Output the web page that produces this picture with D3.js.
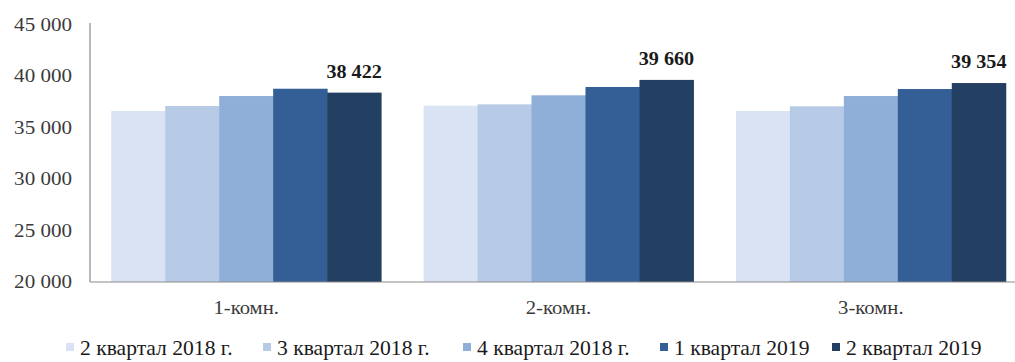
<!DOCTYPE html>
<html><head><meta charset="utf-8">
<script src="https://cdn.jsdelivr.net/npm/d3@7"></script>
<style>body{margin:0;background:#fff}svg{display:block}text{font-family:"Liberation Serif","Times New Roman",serif}</style>
</head><body>
<svg id="c" width="1015" height="362"></svg>
<script>
const categories = ["1-комн.", "2-комн.", "3-комн."];
const seriesNames = ["2 квартал 2018 г.", "3 квартал 2018 г.", "4 квартал 2018 г.", "1 квартал 2019", "2 квартал 2019"];
const q2_2018 = [36630, 37150, 36630];
const q3_2018 = [37120, 37280, 37090];
const q4_2018 = [38090, 38160, 38090];
const q1_2019 = [38800, 38970, 38770];
const q2_2019 = [38422, 39660, 39354];
const labelValues = [null, null, null, null, q2_2019];
const yTicks = [20000, 25000, 30000, 35000, 40000, 45000];
const colors = ["#dae3f3", "#b7cbe6", "#8faed8", "#345e96", "#233f62"];

const series = [q2_2018, q3_2018, q4_2018, q1_2019, q2_2019];
const svg = d3.select("#c");
const fmt = v => d3.format(",")(v).replace(/,/g, " ");

const y = d3.scaleLinear().domain([20000, 45000]).range([282, 25]);
const x0 = d3.scaleBand().domain(categories).range([90, 1027]).paddingInner(0.136).paddingOuter(0.068);
const x1 = d3.scaleBand().domain(d3.range(series.length)).range([0, x0.bandwidth()]);

function stretched(g, tx, ty, txt, anchor, sx) {
  return g.append("text").attr("transform", `translate(${tx},${ty}) scale(${sx},1)`)
    .attr("text-anchor", anchor).text(txt);
}

// bars
categories.forEach((c, ci) => {
  series.forEach((s, si) => {
    svg.append("rect")
      .attr("x", x0(c) + x1(si)).attr("width", x1.bandwidth() + 0.5)
      .attr("y", y(s[ci])).attr("height", y(20000) - y(s[ci]))
      .attr("fill", colors[si]);
  });
});

// axes
const ax = svg.append("g").attr("stroke", "#8a8a8a").attr("stroke-width", 1.2);
ax.append("line").attr("x1", 90).attr("x2", 90).attr("y1", y(45000) - 2).attr("y2", y(20000));
ax.append("line").attr("x1", 90).attr("x2", 1027).attr("y1", y(20000)).attr("y2", y(20000));

const tg = svg.append("g").attr("font-size", 18).attr("fill", "#3a3a3a");
yTicks.forEach(t => stretched(tg, 72, y(t) + 6, fmt(t), "end", 1.17));
categories.forEach(c => stretched(tg, x0(c) + x0.bandwidth() / 2, 314, c, "middle", 1.15));

// data labels
const lg = svg.append("g").attr("font-size", 18).attr("font-weight", "bold").attr("fill", "#1a1a1a");
labelValues.forEach((lv, si) => {
  if (!lv) return;
  categories.forEach((c, ci) => {
    stretched(lg, x0(c) + x1(si) + x1.bandwidth() / 2, y(lv[ci]) - 15, fmt(lv[ci]), "middle", 1.12);
  });
});

// legend
const legX = [66, 263, 463, 660, 832];
const leg = svg.append("g").attr("font-size", 20).attr("fill", "#1a1a1a");
seriesNames.forEach((n, i) => {
  leg.append("rect").attr("x", legX[i]).attr("y", 343).attr("width", 8).attr("height", 8).attr("fill", colors[i]);
  stretched(leg, legX[i] + 14, 355, n, "start", 1.08);
});
</script>
</body></html>
